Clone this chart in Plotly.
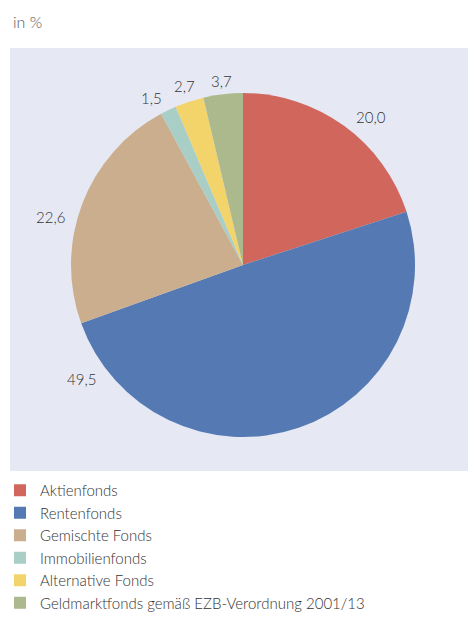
import math
import plotly.graph_objects as go

categories = ["Aktienfonds", "Rentenfonds", "Gemischte Fonds", "Immobilienfonds",
              "Alternative Fonds", "Geldmarktfonds gemäß EZB-Verordnung 2001/13"]
values = [20.0, 49.5, 22.6, 1.5, 2.7, 3.7]
value_labels = ["20,0", "49,5", "22,6", "1,5", "2,7", "3,7"]
colors = ["#D0665C", "#5479B3", "#CBAE8D", "#A9CEC6", "#F2D46B", "#ABB98D"]

# label placement (fraction of the circle, clockwise from 12 o'clock; None = slice midpoint)
label_fraction = [0.114, 0.652, 0.789, 0.92, None, None]

W, H = 469, 619
CX, CY, R = 243, 265, 172          # pie centre / radius in px
PANEL = (10, 48, 468, 471)          # x0, y0, x1, y1 in px

fig = go.Figure(go.Pie(
    labels=categories,
    values=values,
    sort=False,
    direction="clockwise",
    rotation=0,
    marker=dict(colors=colors, line=dict(width=0)),
    textinfo="none",
    hoverinfo="label+value",
    domain=dict(x=[(CX - R) / W, (CX + R) / W], y=[1 - (CY + R) / H, 1 - (CY - R) / H]),
))

total = sum(values)
annotations = []
cum = 0.0
for v, txt, frac in zip(values, value_labels, label_fraction):
    mid = (cum + v / 2) / total if frac is None else frac
    cum += v
    th = 2 * math.pi * mid
    s, c = math.sin(th), math.cos(th)
    half_w = 4.3 * len(txt)
    r = R + 4 + 1.2 * half_w * abs(s) + 8 * abs(c)
    annotations.append(dict(
        text=txt, xref="paper", yref="paper",
        x=(CX + r * s) / W, y=1 - (CY - r * c) / H,
        xanchor="center", yanchor="middle", showarrow=False,
        font=dict(size=15, color="#333333", family="Lato", weight=300)))

annotations.append(dict(text="in %", xref="paper", yref="paper", x=11 / W, y=1 - 21 / H,
                        xanchor="left", yanchor="middle", showarrow=False,
                        font=dict(size=16, color="#555555", family="Lato", weight=300)))

fig.update_layout(
    width=W, height=H,
    margin=dict(l=0, r=0, t=0, b=0),
    paper_bgcolor="white",
    font=dict(family="Lato", color="#333333"),
    shapes=[dict(type="rect", xref="paper", yref="paper",
                 x0=PANEL[0] / W, x1=PANEL[2] / W, y0=1 - PANEL[3] / H, y1=1 - PANEL[1] / H,
                 fillcolor="#E6E9F3", line=dict(width=0), layer="below")],
    annotations=annotations,
    legend=dict(x=0.0, y=0.0, xanchor="left", yanchor="bottom",
                font=dict(size=15, color="#333333", family="Lato", weight=300),
                itemwidth=30, tracegroupgap=0, bgcolor="rgba(0,0,0,0)"),
    showlegend=True,
)

fig.write_html("out.html", config={"displayModeBar": False},
               post_script="document.body.style.margin='0';document.body.style.overflow='hidden';"
                           "document.documentElement.style.overflow='hidden';")
